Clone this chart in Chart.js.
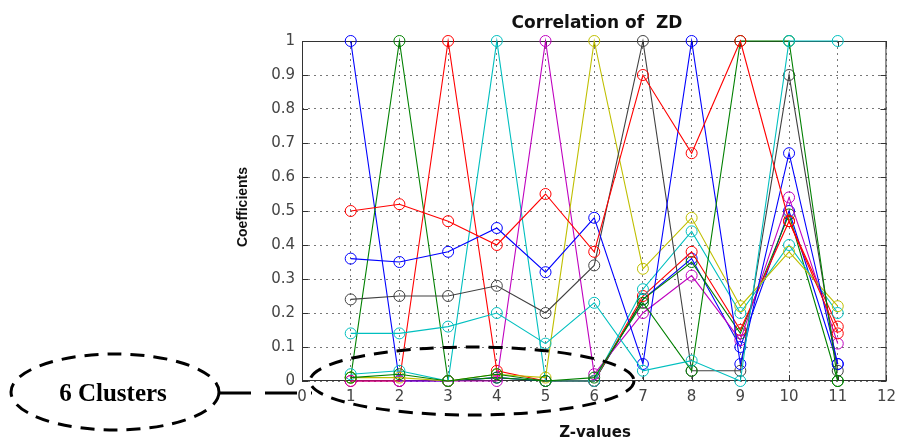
<!DOCTYPE html>
<html>
<head>
<meta charset="utf-8">
<script src="https://cdn.jsdelivr.net/npm/chart.js@4/dist/chart.umd.min.js"></script>
<style>
html,body{margin:0;padding:0;background:#fff;}
#wrap{width:903px;height:440px;}
</style>
</head>
<body>
<div id="wrap"><canvas id="c" width="903" height="440"></canvas></div>
<script>
// ---- data ----
const zValues = [1, 2, 3, 4, 5, 6, 7, 8, 9, 10, 11];
const xTickLabels = ['0','1','2','3','4','5','6','7','8','9','10','11','12'];
const yTickLabels = ['0','0.1','0.2','0.3','0.4','0.5','0.6','0.7','0.8','0.9','1'];

const s1Blue    = [1.00, 0.00, 0.00, 0.01, 0.00, 0.00, 0.24, 0.36, 0.10, 0.50, 0.05];
const s2Green   = [0.01, 1.00, 0.00, 0.01, 0.00, 0.00, 0.24, 0.35, 0.14, 0.49, 0.00];
const s3Red     = [0.00, 0.00, 1.00, 0.03, 0.00, 0.00, 0.25, 0.38, 0.15, 0.47, 0.16];
const s4Cyan    = [0.02, 0.03, 0.00, 1.00, 0.00, 0.00, 0.27, 0.44, 0.20, 0.40, 0.20];
const s5Magenta = [0.00, 0.00, 0.00, 0.00, 1.00, 0.02, 0.20, 0.31, 0.12, 0.54, 0.11];
const s6Yellow  = [0.01, 0.01, 0.00, 0.02, 0.01, 1.00, 0.33, 0.48, 0.22, 0.38, 0.22];
const s7Black   = [0.24, 0.25, 0.25, 0.28, 0.20, 0.34, 1.00, 0.03, 0.03, 0.90, 0.03];
const s8Blue    = [0.36, 0.35, 0.38, 0.45, 0.32, 0.48, 0.05, 1.00, 0.05, 0.67, 0.05];
const s9Green   = [0.01, 0.02, 0.00, 0.02, 0.00, 0.01, 0.23, 0.03, 1.00, 1.00, 0.00];
const s10Red    = [0.50, 0.52, 0.47, 0.40, 0.55, 0.38, 0.90, 0.67, 1.00, 0.47, 0.14];
const s11Cyan   = [0.14, 0.14, 0.16, 0.20, 0.11, 0.23, 0.03, 0.06, 0.00, 1.00, 1.00];

const seriesList = [s1Blue, s2Green, s3Red, s4Cyan, s5Magenta, s6Yellow, s7Black, s8Blue, s9Green, s10Red, s11Cyan];
const seriesColors = ['#0000FF','#008000','#FF0000','#00BFBF','#BF00BF','#BFBF00','#404040','#0000FF','#008000','#FF0000','#00BFBF'];

// ---- geometry of the plot box ----
const AREA = {left: 302, right: 892, top: 41, bottom: 381};

const datasets = seriesList.map((s, i) => ({
  label: 'Z' + (i + 1),
  data: zValues.map((z, j) => ({x: z, y: s[j]})),
  borderColor: seriesColors[i],
  borderWidth: 1.1,
  pointStyle: 'circle',
  pointRadius: 5.5,
  pointBorderWidth: 1,
  pointBackgroundColor: 'rgba(0,0,0,0)',
  pointBorderColor: seriesColors[i],
  tension: 0,
  clip: false,
  order: seriesList.length - i
}));

const decorPlugin = {
  id: 'decor',
  beforeDatasetsDraw(chart) {
    const {ctx, chartArea: a, scales} = chart;
    ctx.save();
    ctx.strokeStyle = '#333';
    ctx.lineWidth = 1;
    ctx.strokeRect(a.left + 0.5, a.top + 0.5, a.right - a.left - 1, a.bottom - a.top - 1);
    ctx.beginPath();
    const tl = 6;
    for (let i = 0; i < xTickLabels.length; i++) {
      const x = Math.round(scales.x.getPixelForValue(i)) + 0.5;
      ctx.moveTo(x, a.bottom); ctx.lineTo(x, a.bottom - tl);
      ctx.moveTo(x, a.top); ctx.lineTo(x, a.top + tl);
    }
    for (let i = 0; i < yTickLabels.length; i++) {
      const y = Math.round(scales.y.getPixelForValue(i / 10)) + 0.5;
      ctx.moveTo(a.left, y); ctx.lineTo(a.left + tl, y);
      ctx.moveTo(a.right, y); ctx.lineTo(a.right - tl, y);
    }
    ctx.stroke();
    ctx.restore();
  },
  afterDraw(chart) {
    const {ctx} = chart;
    ctx.save();
    // title
    ctx.fillStyle = '#111';
    ctx.textAlign = 'center';
    ctx.textBaseline = 'alphabetic';
    ctx.font = 'bold 17px "DejaVu Sans"';
    ctx.fillText('Correlation of  ZD', (AREA.left + AREA.right) / 2, 28);
    // x label
    ctx.font = 'bold 15px "DejaVu Sans"';
    ctx.fillText('Z-values', 595, 437);
    // y label
    ctx.save();
    ctx.translate(243, 207);
    ctx.rotate(-Math.PI / 2);
    ctx.font = 'bold 14px "Liberation Sans"';
    ctx.textBaseline = 'middle';
    ctx.fillText('Coefficients', 0, 0);
    ctx.restore();
    // annotations
    ctx.strokeStyle = '#000';
    ctx.lineWidth = 3;
    ctx.setLineDash([14, 9]);
    ctx.beginPath();
    ctx.ellipse(115, 392, 104, 38, 0, 0, Math.PI * 2);
    ctx.stroke();
    ctx.beginPath();
    ctx.ellipse(472, 381, 162, 34, 0, 0, Math.PI * 2);
    ctx.stroke();
    ctx.setLineDash([32, 14]);
    ctx.beginPath();
    ctx.moveTo(219, 393);
    ctx.lineTo(312, 393);
    ctx.stroke();
    ctx.setLineDash([]);
    ctx.fillStyle = '#000';
    ctx.font = 'bold 25px "Liberation Serif"';
    ctx.textBaseline = 'middle';
    ctx.fillText('6 Clusters', 113, 395);
    ctx.restore();
  }
};

new Chart(document.getElementById('c'), {
  type: 'line',
  data: {datasets},
  options: {
    responsive: false,
    animation: false,
    devicePixelRatio: 1,
    layout: {padding: {left: 0, right: 903 - AREA.right, top: AREA.top, bottom: 0}},
    plugins: {legend: {display: false}, title: {display: false}, tooltip: {enabled: false}},
    scales: {
      x: {
        type: 'linear', min: 0, max: 12,
        afterFit: (s) => { s.height = 440 - AREA.bottom; },
        ticks: {stepSize: 1, padding: 7, color: '#444', font: {family: 'DejaVu Sans', size: 15},
                callback: (v) => xTickLabels[Math.round(v)], maxRotation: 0, autoSkip: false},
        grid: {color: '#777', lineWidth: 1, drawTicks: false},
        border: {display: false, dash: [2, 4]}
      },
      y: {
        type: 'linear', min: 0, max: 1,
        afterFit: (s) => { s.width = AREA.left; },
        ticks: {stepSize: 0.1, padding: 7, color: '#444', font: {family: 'DejaVu Sans', size: 15},
                callback: (v) => yTickLabels[Math.round(v * 10)], autoSkip: false},
        grid: {color: '#777', lineWidth: 1, drawTicks: false},
        border: {display: false, dash: [2, 4]}
      }
    }
  },
  plugins: [decorPlugin]
});
</script>
</body>
</html>
